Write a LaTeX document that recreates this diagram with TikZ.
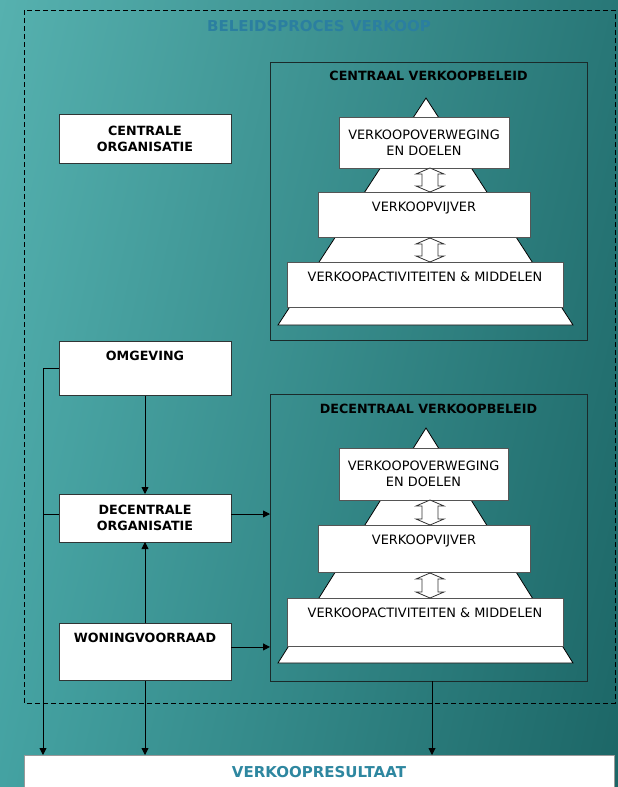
\documentclass[tikz,border=0pt]{standalone}
\usepackage{fontspec}
\setmainfont{DejaVu Sans}
\usetikzlibrary{arrows.meta,shadings}

\definecolor{bgUL}{HTML}{56B1AF}
\definecolor{bgUR}{HTML}{287777}
\definecolor{bgLL}{HTML}{44A2A2}
\definecolor{bgLR}{HTML}{1C6666}
\definecolor{titleblue}{HTML}{2B7FA0}
\definecolor{resultblue}{HTML}{2E87A0}
\definecolor{frameline}{HTML}{1A2A2A}
\definecolor{boxline}{HTML}{303535}
\definecolor{stepline}{HTML}{555555}
\definecolor{arrowline}{HTML}{333333}

\tikzset{
  regular/.style={font=\fontsize{12.9}{16}\selectfont},
  heavy/.style={font=\bfseries\fontsize{12.7}{16}\selectfont},
  plainbox/.style={draw=boxline, fill=white, line width=0.9pt, inner xsep=0pt,
    outer sep=0pt, anchor=north west, align=center},
  stepbox/.style={plainbox, draw=stepline, regular},
  sidebox/.style={plainbox, heavy},
  topline/.style={inner ysep=10.3pt, text height=9.3pt},
  policyframe/.style={draw=frameline, line width=1pt, inner sep=0pt, outer sep=0pt,
    anchor=north west},
  link/.style={line width=0.9pt, black},
  arr/.style={link, -{Triangle[length=7pt,width=7pt]}},
  pyramid/.style={draw=black, fill=white, line width=0.8pt},
  pics/updown/.style={code={
    \draw[fill=white, draw=arrowline, line width=0.8pt]
      (0,0) -- (-14,6) -- (-8,6) -- (-8,#1-6) -- (-14,#1-6) -- (0,#1)
      -- (14,#1-6) -- (8,#1-6) -- (8,6) -- (14,6) -- cycle;
  }}
}

\begin{document}
\begin{tikzpicture}[x=1pt,y=-1pt]
\clip (0,0) rectangle (618,787);
\shade[upper left=bgUL, upper right=bgUR, lower left=bgLL, lower right=bgLR]
  (0,0) rectangle (618,787);

% overall process boundary
\draw[line width=1pt, dash pattern=on 5pt off 3pt] (24,10) rectangle (615,703);
\node[font=\bfseries\fontsize{15}{18}\selectfont, text=titleblue] (proces) at (319,26)
  {BELEIDSPROCES VERKOOP};

% left column
\node[sidebox, minimum width=172pt, minimum height=49pt] (corg) at (59,114)
  {CENTRALE\\ORGANISATIE};
\node[sidebox, topline, minimum width=172pt, text depth=25pt] (omg) at (59,341)
  {OMGEVING};
\node[sidebox, minimum width=172pt, minimum height=48pt] (dec) at (59,494)
  {DECENTRALE\\ORGANISATIE};
\node[sidebox, topline, minimum width=172pt, text depth=28pt] (won) at (59,623)
  {WONINGVOORRAAD};

% central policy frame
\node[policyframe, minimum width=317pt, minimum height=278pt] (cframe) at (270,62) {};
\node[heavy] (ctitle) at ([yshift=-14pt]cframe.north) {CENTRAAL VERKOOPBELEID};
\filldraw[pyramid] (426,98) -- (573,325) -- (278,325) -- cycle;
\node[stepbox, minimum width=170pt, minimum height=51pt] (c1) at (339,117)
  {VERKOOPOVERWEGING\\EN DOELEN};
\node[stepbox, topline, minimum width=212pt, text depth=15.9pt] (c2) at (318,192)
  {VERKOOPVIJVER};
\node[stepbox, topline, minimum width=276pt, text depth=15.9pt] (c3) at (287,262)
  {VERKOOPACTIVITEITEN \& MIDDELEN};
\pic at (430,168) {updown=24};
\pic at (430,238) {updown=24};

% decentral policy frame
\node[policyframe, minimum width=317pt, minimum height=287pt] (dframe) at (270,394) {};
\node[heavy] (dtitle) at ([yshift=-15pt]dframe.north) {DECENTRAAL VERKOOPBELEID};
\filldraw[pyramid] (426,428) -- (573,663) -- (278,663) -- cycle;
\node[stepbox, minimum width=169pt, minimum height=52pt] (d1) at (339,448)
  {VERKOOPOVERWEGING\\EN DOELEN};
\node[stepbox, topline, minimum width=212pt, text depth=17.9pt] (d2) at (318,525)
  {VERKOOPVIJVER};
\node[stepbox, topline, minimum width=276pt, text depth=18.9pt] (d3) at (287,598)
  {VERKOOPACTIVITEITEN \& MIDDELEN};
\pic at (430,500) {updown=25};
\pic at (430,573) {updown=25};

% result
\node[plainbox, draw=gray!80, font=\bfseries\fontsize{15}{18}\selectfont, text=resultblue,
  minimum width=590pt, inner ysep=11pt, text height=11pt, text depth=30pt] (res) at (24,755)
  {VERKOOPRESULTAAT};

% connectors
\coordinate (rail) at (43,0);
\coordinate (dout) at (432,0);
\coordinate (decL) at ([yshift=4pt]dec.west);
\coordinate (decR) at ([yshift=4pt]dec.east);
\coordinate (wonR) at ([yshift=5pt]won.east);

\draw[arr] (omg.west) -| (rail |- res.north);
\draw[link] (decL) -- (decL -| rail);
\draw[arr] (omg.south) -- (dec.north);
\draw[arr] (won.north) -- (dec.south);
\draw[arr] (decR) -- (decR -| dframe.west);
\draw[arr] (wonR) -- (wonR -| dframe.west);
\draw[arr] (won.south) -- (won.south |- res.north);
\draw[arr] (dframe.south -| dout) -- (res.north -| dout);
\end{tikzpicture}
\end{document}
